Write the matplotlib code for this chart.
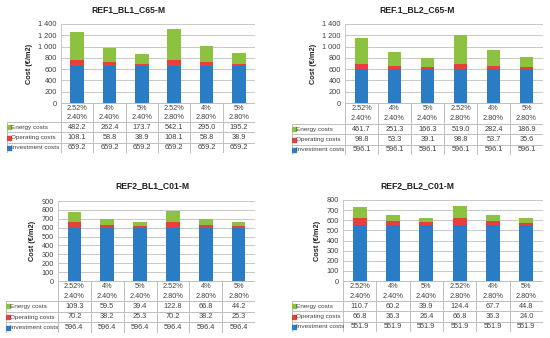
import matplotlib
matplotlib.use("Agg")
import matplotlib.pyplot as plt
import numpy as np

plt.rcParams['font.family'] = ['Liberation Sans', 'DejaVu Sans']

col_top = ["2.52%", "4%", "5%", "2.52%", "4%", "5%"]
col_bot = ["2.40%", "2.40%", "2.40%", "2.80%", "2.80%", "2.80%"]
row_labels = ["Energy costs", "Operating costs", "Investment costs"]

titles = ["REF1_BL1_C65-M", "REF.1_BL2_C65-M", "REF2_BL1_C01-M", "REF2_BL2_C01-M"]

energy_1 = [482.2, 262.4, 173.7, 542.1, 295.0, 195.2]
operating_1 = [108.1, 58.8, 38.9, 108.1, 58.8, 38.9]
investment_1 = [659.2, 659.2, 659.2, 659.2, 659.2, 659.2]

energy_2 = [461.7, 251.3, 166.3, 519.0, 282.4, 186.9]
operating_2 = [98.8, 53.3, 39.1, 98.8, 53.7, 35.6]
investment_2 = [596.1, 596.1, 596.1, 596.1, 596.1, 596.1]

energy_3 = [109.3, 59.5, 39.4, 122.8, 66.8, 44.2]
operating_3 = [70.2, 38.2, 25.3, 70.2, 38.2, 25.3]
investment_3 = [596.4, 596.4, 596.4, 596.4, 596.4, 596.4]

energy_4 = [110.7, 60.2, 39.9, 124.4, 67.7, 44.8]
operating_4 = [66.8, 36.3, 26.4, 66.8, 36.3, 24.0]
investment_4 = [551.9, 551.9, 551.9, 551.9, 551.9, 551.9]

ymax = [1400, 1400, 900, 800]
ystep = [200, 200, 100, 100]

C_BLUE = "#2A7CC4"
C_RED = "#E5403D"
C_GREEN = "#8CC23F"
C_GRID = "#C8C8C8"
C_TXT = "#404040"

W, H = 550, 338
fig = plt.figure(figsize=(W / 100, H / 100), dpi=100)
fig.patch.set_facecolor("white")

layouts = [
    (61, 255, 24, 103, 7, 122, 153, 128, 10),
    (345, 543, 24, 103, 292, 124, 155, 417, 10),
    (58, 255, 201, 281, 6, 301, 333, 152, 186),
    (343, 543, 200, 281, 292, 301, 332, 417, 186),
]

data = [
    (energy_1, operating_1, investment_1),
    (energy_2, operating_2, investment_2),
    (energy_3, operating_3, investment_3),
    (energy_4, operating_4, investment_4),
]

FS = 5.3
FS_LAB = 4.6


def fmt_tick(v):
    v = int(v)
    if v >= 1000:
        return f"{v // 1000} {v % 1000:03d}"
    return str(v)


for i in range(4):
    pl, pr, pt, pb, tl, hb, tb, tx, ty = layouts[i]
    energy, operating, investment = data[i]
    ax = fig.add_axes([pl / W, 1 - pb / H, (pr - pl) / W, (pb - pt) / H])
    x = np.arange(6)
    bw = 0.42
    ax.bar(x, investment, bw, color=C_BLUE, zorder=3)
    ax.bar(x, operating, bw, bottom=investment, color=C_RED, zorder=3)
    bot2 = np.array(investment) + np.array(operating)
    ax.bar(x, energy, bw, bottom=bot2, color=C_GREEN, zorder=3)
    ax.set_xlim(-0.5, 5.5)
    ax.set_ylim(0, ymax[i])
    ticks = np.arange(0, ymax[i] + 1, ystep[i])
    ax.set_yticks(ticks)
    ax.set_yticklabels([fmt_tick(t) for t in ticks], fontsize=FS, color=C_TXT)
    ax.set_xticks([])
    ax.tick_params(axis="y", length=0, pad=3)
    ax.grid(axis="y", color=C_GRID, linewidth=0.7, zorder=0)
    for s in ["top", "right", "bottom"]:
        ax.spines[s].set_visible(False)
    ax.spines["left"].set_color(C_GRID)
    ax.spines["left"].set_linewidth(0.7)
    ax.set_ylabel("Cost (€/m2)", fontsize=FS, fontweight="bold", color="#202020", labelpad=4)
    fig.text(tx / W, 1 - ty / H, titles[i], fontsize=6.2, fontweight="bold",
             ha="center", va="center", color="#202020")

    cw = (pr - pl) / 6.0
    xleft = -0.5 - (pl - tl) / cw
    tax = fig.add_axes([tl / W, 1 - tb / H, (pr - tl) / W, (tb - pb) / H])
    tax.set_xlim(xleft, 5.5)
    row_h = (tb - hb) / 3.0
    head_units = (hb - pb) / row_h
    ytop = 3 + head_units
    tax.set_ylim(0, ytop)
    tax.axis("off")
    lc = "#BFBFBF"
    lw = 0.7
    for k in range(7):
        tax.plot([-0.5 + k, -0.5 + k], [0, ytop], color=lc, lw=lw, solid_capstyle="butt")
    tax.plot([xleft, xleft], [0, 3], color=lc, lw=lw)
    for yy in [0, 1, 2, 3]:
        tax.plot([xleft, 5.5], [yy, yy], color=lc, lw=lw)
    tax.plot([-0.5, 5.5], [ytop, ytop], color=lc, lw=lw)
    for k in range(6):
        tax.text(k, 3 + head_units * 0.73, col_top[k], fontsize=FS, ha="center", va="center", color=C_TXT)
        tax.text(k, 3 + head_units * 0.25, col_bot[k], fontsize=FS, ha="center", va="center", color=C_TXT)
    rows = [(energy, C_GREEN, 2.5), (operating, C_RED, 1.5), (investment, C_BLUE, 0.5)]
    for (vals, col, yc), lab in zip(rows, row_labels):
        for k in range(6):
            tax.text(k, yc, f"{vals[k]:.1f}", fontsize=FS, ha="center", va="center", color=C_TXT)
        tax.plot([xleft + 0.07], [yc], marker="s", markersize=2.3, color=col, linestyle="none")
        tax.text(xleft + 0.13, yc, lab, fontsize=FS_LAB, ha="left", va="center", color=C_TXT)

fig.savefig("out.png", dpi=100, facecolor="white")
